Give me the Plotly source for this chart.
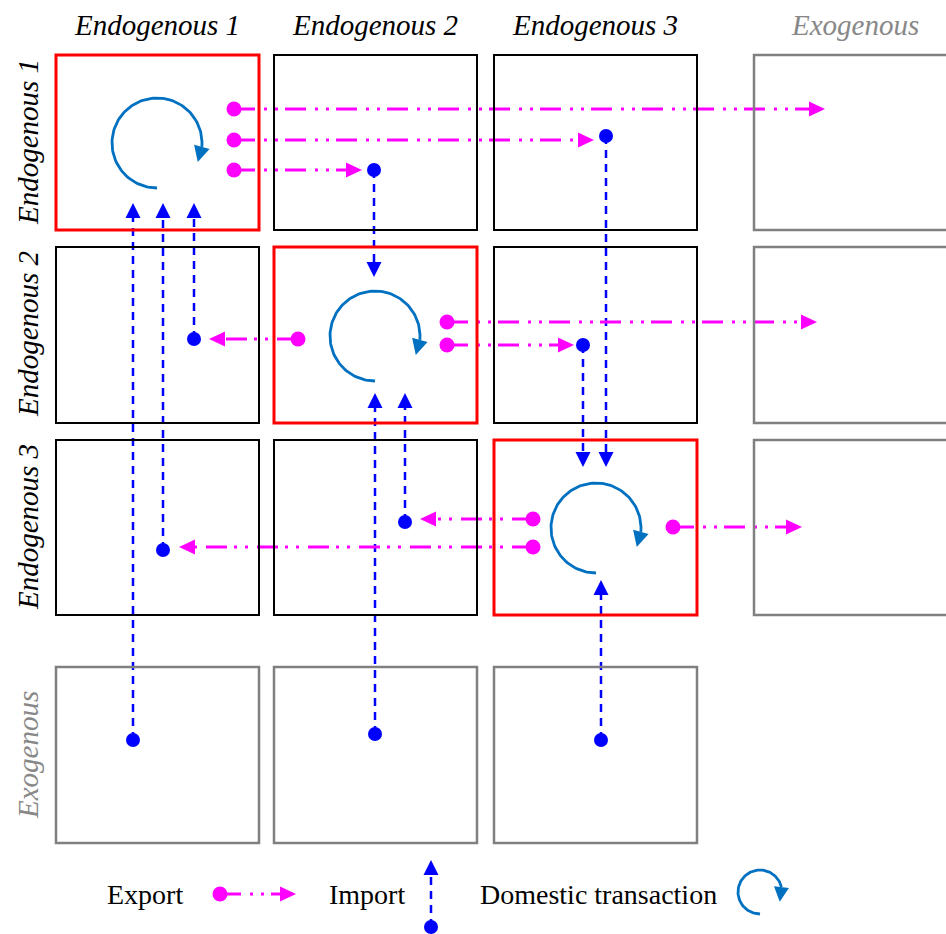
import numpy as np
import plotly.graph_objects as go

W, H = 946, 934

# ---- grid of sectors ----
col_labels = ["Endogenous 1", "Endogenous 2", "Endogenous 3", "Exogenous"]
row_labels = ["Endogenous 1", "Endogenous 2", "Endogenous 3", "Exogenous"]
col_x0 = [56, 274, 494, 754]
col_x1 = [259, 477, 697, 975]
row_y0 = [55, 247, 440, 667]
row_y1 = [230, 423, 615, 843]
col_label_x = [157, 375, 595, 855]
col_label_y = 25
row_label_x = 28
row_label_y = [142, 334, 527, 755]

# ---- exports (magenta, horizontal): start dot x, y, arrow tip x ----
exp_x0 = [234, 234, 234, 298, 447, 447, 533, 533, 673]
exp_y = [109, 140, 170, 339, 322, 345, 519, 547, 527]
exp_x1 = [825, 594, 362, 209, 817, 574, 420, 179, 802]

# ---- imports (blue, vertical): x, start dot y, arrow tip y ----
imp_x = [374, 606, 583, 194, 163, 133, 405, 375, 601]
imp_y0 = [170, 136, 345, 339, 550, 740, 522, 734, 740]
imp_y1 = [277, 467, 467, 203, 203, 203, 393, 393, 580]

# ---- domestic transaction cycles ----
cyc_cx = [157, 375, 596]
cyc_cy = [143, 336, 528]
cyc_r = [45, 45, 45]

# ---- legend ----
leg_text = ["Export", "Import", "Domestic transaction"]
leg_text_x = [145, 367, 598]
leg_y = 894
leg_exp = (220, 296)          # dot x, tip x
leg_imp = (431, 927, 860)     # x, dot y, tip y
leg_cyc = (760, 892, 22)      # cx, cy, r

MAGENTA = "#ff00ff"
BLUE = "#0000ff"
CYC = "#0070c0"
GRAY = "#888888"
EXP_DASH = "21px,9px,3px,8px,3px,7px"
IMP_DASH = "8px,6px"

fig = go.Figure()


def arrowhead(tip, base, width, color):
    tx, ty = tip
    bx, by = base
    dx, dy = tx - bx, ty - by
    n = np.hypot(dx, dy)
    px, py = -dy / n, dx / n
    xs = [tx, bx + px * width / 2, bx - px * width / 2, tx]
    ys = [ty, by + py * width / 2, by - py * width / 2, ty]
    fig.add_trace(go.Scatter(x=xs, y=ys, mode="lines", fill="toself",
                             fillcolor=color, line=dict(width=0, color=color),
                             hoverinfo="skip", showlegend=False))


def export_arrow(x0, y, x1, L=16, Wd=15):
    s = 1 if x1 > x0 else -1
    fig.add_trace(go.Scatter(x=[x0, x1 - s * L], y=[y, y], mode="lines",
                             line=dict(color=MAGENTA, width=3, dash=EXP_DASH),
                             hoverinfo="skip", showlegend=False))
    arrowhead((x1, y), (x1 - s * L, y), Wd, MAGENTA)
    fig.add_trace(go.Scatter(x=[x0], y=[y], mode="markers",
                             marker=dict(color=MAGENTA, size=15, line=dict(width=0)),
                             hoverinfo="skip", showlegend=False))


def import_arrow(x, y0, y1, L=15, Wd=15):
    s = 1 if y1 > y0 else -1
    fig.add_trace(go.Scatter(x=[x, x], y=[y0, y1 - s * L], mode="lines",
                             line=dict(color=BLUE, width=2.5, dash=IMP_DASH),
                             hoverinfo="skip", showlegend=False))
    arrowhead((x, y1), (x, y1 - s * L), Wd, BLUE)
    fig.add_trace(go.Scatter(x=[x], y=[y0], mode="markers",
                             marker=dict(color=BLUE, size=14, line=dict(width=0)),
                             hoverinfo="skip", showlegend=False))


def cycle(cx, cy, r, a_end, a_tip, Wd):
    th = np.radians(np.linspace(90, a_end, 120))
    fig.add_trace(go.Scatter(x=cx + r * np.cos(th), y=cy + r * np.sin(th),
                             mode="lines", line=dict(color=CYC, width=2.8),
                             hoverinfo="skip", showlegend=False))
    b = np.radians(a_end)
    t = np.radians(a_tip)
    arrowhead((cx + r * np.cos(t), cy + r * np.sin(t)),
              (cx + r * np.cos(b), cy + r * np.sin(b)), Wd, CYC)


# ---- sector boxes ----
for r in range(4):
    for c in range(4):
        if r == 3 and c == 3:
            continue
        if r == c:
            color, lw = "#ff0000", 3
        elif r == 3 or c == 3:
            color, lw = "#808080", 2.5
        else:
            color, lw = "#000000", 2
        fig.add_shape(type="rect", xref="x", yref="y",
                      x0=col_x0[c], x1=col_x1[c], y0=row_y0[r], y1=row_y1[r],
                      line=dict(color=color, width=lw), layer="above")

# ---- flows ----
for x, y0, y1 in zip(imp_x, imp_y0, imp_y1):
    import_arrow(x, y0, y1)
for x0, y, x1 in zip(exp_x0, exp_y, exp_x1):
    export_arrow(x0, y, x1)
for cx, cy, r in zip(cyc_cx, cyc_cy, cyc_r):
    cycle(cx, cy, r, 365, 385, 16)

# ---- legend ----
export_arrow(leg_exp[0], leg_y, leg_exp[1])
import_arrow(leg_imp[0], leg_imp[1], leg_imp[2])
cycle(leg_cyc[0], leg_cyc[1], leg_cyc[2], 347, 386, 15)

annotations = []
for i, lab in enumerate(col_labels):
    annotations.append(dict(x=col_label_x[i], y=col_label_y, xref="x", yref="y",
                            text="<i>" + lab + "</i>", showarrow=False,
                            font=dict(family="Liberation Serif", size=29,
                                      color=GRAY if lab == "Exogenous" else "#000000")))
for i, lab in enumerate(row_labels):
    annotations.append(dict(x=row_label_x, y=row_label_y[i], xref="x", yref="y",
                            text="<i>" + lab + "</i>", showarrow=False, textangle=-90,
                            font=dict(family="Liberation Serif", size=29,
                                      color=GRAY if lab == "Exogenous" else "#000000")))
for t, x in zip(leg_text, leg_text_x):
    annotations.append(dict(x=x, y=leg_y, xref="x", yref="y", text=t, showarrow=False,
                            font=dict(family="Liberation Serif", size=28, color="#000000")))

fig.update_layout(
    width=W, height=H, margin=dict(l=0, r=0, t=0, b=0),
    paper_bgcolor="white", plot_bgcolor="white",
    xaxis=dict(range=[0, W], visible=False, fixedrange=True),
    yaxis=dict(range=[H, 0], visible=False, fixedrange=True),
    showlegend=False, annotations=annotations, hovermode=False,
)

fig.write_html(
    "out.html",
    config={"displayModeBar": False, "staticPlot": True},
    post_script="document.body.style.margin='0';document.body.style.overflow='hidden';",
)
